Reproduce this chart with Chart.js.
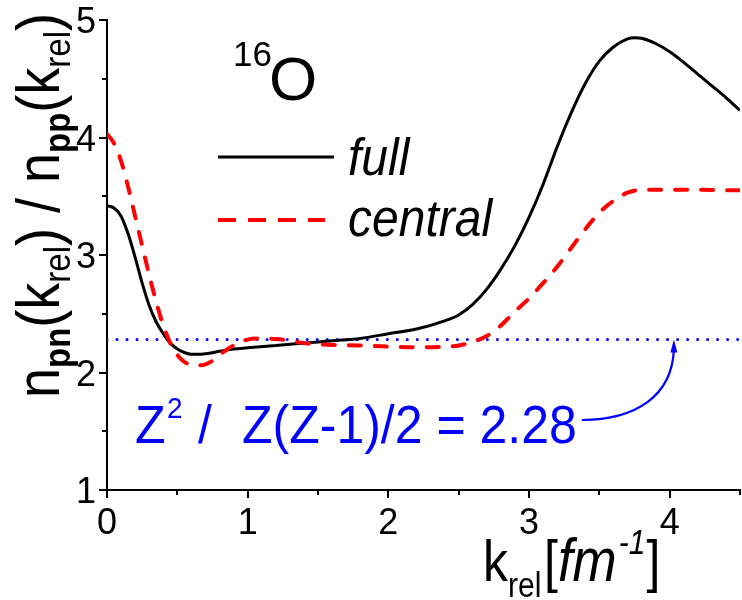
<!DOCTYPE html>
<html>
<head>
<meta charset="utf-8">
<script src="https://cdn.jsdelivr.net/npm/chart.js@4/dist/chart.umd.min.js"></script>
<style>
  html, body { margin: 0; padding: 0; background: #fff; }
  canvas { display: block; }
</style>
</head>
<body>
<canvas id="c" width="742" height="600"></canvas>
<script>
// ---- data ----
const kFull = [0.00,0.05,0.10,0.15,0.20,0.25,0.30,0.35,0.40,0.45,0.50,0.55,0.60,0.65,0.70,0.80,0.90,1.00,1.20,1.40,1.60,1.80,2.00,2.20,2.40,2.50,2.60,2.70,2.80,2.90,3.00,3.10,3.20,3.30,3.40,3.50,3.60,3.70,3.75,3.80,3.90,4.00,4.10,4.20,4.30,4.40,4.50];
const ratioFull = [3.42,3.40,3.33,3.18,2.98,2.76,2.57,2.43,2.33,2.25,2.20,2.17,2.155,2.155,2.16,2.18,2.20,2.21,2.23,2.25,2.27,2.29,2.33,2.37,2.44,2.49,2.58,2.71,2.88,3.08,3.32,3.60,3.92,4.21,4.46,4.65,4.77,4.84,4.85,4.845,4.80,4.73,4.64,4.54,4.44,4.34,4.23];

const kCentral = [0.00,0.05,0.10,0.15,0.20,0.25,0.30,0.35,0.40,0.45,0.50,0.55,0.60,0.65,0.70,0.75,0.80,0.90,1.00,1.10,1.20,1.30,1.40,1.50,1.60,1.80,2.00,2.20,2.40,2.50,2.60,2.70,2.80,2.90,3.00,3.10,3.20,3.30,3.40,3.50,3.60,3.70,3.80,4.00,4.20,4.50];
const ratioCentral = [4.03,3.95,3.80,3.58,3.33,3.08,2.83,2.60,2.40,2.25,2.15,2.09,2.065,2.06,2.07,2.10,2.15,2.23,2.28,2.29,2.285,2.27,2.25,2.24,2.235,2.23,2.22,2.215,2.22,2.23,2.26,2.31,2.40,2.52,2.63,2.76,2.90,3.06,3.22,3.36,3.46,3.53,3.555,3.555,3.555,3.55];

const zRatio = 2.28;            // Z^2 / Z(Z-1)/2
const kRange = [0, 4.5];
const yRange = [1, 5];
const xTickLabels = ['0','1','2','3','4'];
const yTickLabels = ['1','2','3','4','5'];
const seriesNames = ['full', 'central'];

const FONT = '"Liberation Sans", Arial, sans-serif';

const toXY = (xs, ys) => xs.map((x, i) => ({x, y: ys[i]}));

// draw a run of text pieces along a baseline, advancing x
function runs(ctx, x, y, parts) {
  let cx = x;
  for (const p of parts) {
    ctx.font = p.font;
    ctx.fillText(p.t, cx, y + (p.dy || 0));
    cx += ctx.measureText(p.t).width + (p.gap || 0);
  }
  return cx;
}
// same, with glyphs stretched in height by sy (origin at baseline start)
function tallRuns(ctx, x, y, sy, parts) {
  ctx.save();
  ctx.translate(x, y);
  ctx.scale(1, sy);
  const end = runs(ctx, 0, 0, parts);
  ctx.restore();
  return x + end;
}

const decor = {
  id: 'decor',
  afterDraw(chart) {
    const ctx = chart.ctx;
    const xs = chart.scales.x, ys = chart.scales.y;
    const a = chart.chartArea;
    ctx.save();
    // tick marks (major + minor), outward
    ctx.strokeStyle = '#000';
    ctx.lineWidth = 2;
    ctx.beginPath();
    for (let v = kRange[0]; v <= kRange[1] + 1e-9; v += 0.5) {
      const px = Math.round(xs.getPixelForValue(v));
      const len = Math.abs(v - Math.round(v)) < 1e-9 ? 8 : 5;
      ctx.moveTo(px, a.bottom); ctx.lineTo(px, a.bottom + len);
    }
    for (let v = yRange[0]; v <= yRange[1] + 1e-9; v += 0.5) {
      const py = Math.round(ys.getPixelForValue(v));
      const len = Math.abs(v - Math.round(v)) < 1e-9 ? 8 : 5;
      ctx.moveTo(a.left, py); ctx.lineTo(a.left - len, py);
    }
    ctx.stroke();

    ctx.fillStyle = '#000';
    ctx.textBaseline = 'alphabetic';

    // tick labels, positioned through the scales
    const TF = '36px ' + FONT;
    ctx.font = TF;
    ctx.textAlign = 'center';
    xTickLabels.forEach(t => {
      ctx.fillText(t, xs.getPixelForValue(Number(t)), a.bottom + 44);
    });
    ctx.textAlign = 'right';
    yTickLabels.forEach(t => {
      ctx.fillText(t, a.left - 11, ys.getPixelForValue(Number(t)) + 13);
    });
    ctx.textAlign = 'left';

    // y-axis title (rotated, glyphs a bit taller)
    ctx.save();
    ctx.translate(59, 398);
    ctx.rotate(-Math.PI / 2);
    ctx.scale(1, 1.12);
    const M = '54px ' + FONT, SB = 'bold 33px ' + FONT, S = '33px ' + FONT;
    runs(ctx, 0, 0, [
      {t: 'n', font: M}, {t: 'pn', font: SB, dy: 10},
      {t: '(k', font: M}, {t: 'rel', font: S, dy: 10},
      {t: ') / n', font: M}, {t: 'pp', font: SB, dy: 10},
      {t: '(k', font: M}, {t: 'rel', font: S, dy: 10},
      {t: ')', font: M}
    ]);
    ctx.restore();

    // x-axis title
    const XM = '50px ' + FONT, XS = '30px ' + FONT;
    tallRuns(ctx, 483, 581, 1.14, [
      {t: 'k', font: XM}, {t: 'rel', font: XS, dy: 14}
    ]);
    tallRuns(ctx, 544, 581, 1.14, [
      {t: '[', font: XM}, {t: 'fm', font: 'italic 53px ' + FONT, gap: 2},
      {t: '-1', font: 'italic 30px ' + FONT, dy: -24, gap: 1}, {t: ']', font: XM}
    ]);

    // 16O label
    ctx.font = '35px ' + FONT;
    ctx.fillText('16', 233, 66);
    ctx.font = '62px ' + FONT;
    ctx.fillText('O', 269, 100);

    // legend
    ctx.lineCap = 'butt';
    ctx.strokeStyle = '#000';
    ctx.lineWidth = 3;
    ctx.beginPath(); ctx.moveTo(218, 157); ctx.lineTo(334, 157); ctx.stroke();
    ctx.strokeStyle = '#ff0000';
    ctx.lineWidth = 4;
    ctx.setLineDash([18, 12]);
    ctx.beginPath(); ctx.moveTo(218, 220); ctx.lineTo(325, 220); ctx.stroke();
    ctx.setLineDash([]);
    ctx.fillStyle = '#000';
    tallRuns(ctx, 348, 175, 1.07, [{t: seriesNames[0], font: 'italic 48px ' + FONT}]);
    tallRuns(ctx, 348, 236, 1.07, [{t: seriesNames[1], font: 'italic 48px ' + FONT}]);

    // blue annotation
    ctx.fillStyle = '#0000ff';
    ctx.strokeStyle = '#0000ff';
    const ty = 443;
    tallRuns(ctx, 135, ty, 1.08, [{t: 'Z', font: '50px ' + FONT}]);
    tallRuns(ctx, 167, ty - 25, 1.08, [{t: '2', font: '28px ' + FONT}]);
    tallRuns(ctx, 198, ty, 1.08, [{t: '/', font: '50px ' + FONT}]);
    const endX = tallRuns(ctx, 242, ty, 1.08, [{t: 'Z(Z-1)/2 = ' + zRatio.toFixed(2), font: '50px ' + FONT}]);

    // curved arrow to the dotted line
    const tipX = xs.getPixelForValue(4.03), tipY = ys.getPixelForValue(zRatio);
    ctx.lineWidth = 2.2;
    ctx.beginPath();
    ctx.moveTo(endX + 5, 420);
    ctx.bezierCurveTo(tipX - 38, 420, tipX - 2, 396, tipX, tipY + 10);
    ctx.stroke();
    ctx.beginPath();
    ctx.moveTo(tipX, tipY);
    ctx.lineTo(tipX - 3.5, tipY + 13);
    ctx.lineTo(tipX + 3.5, tipY + 13);
    ctx.closePath();
    ctx.fill();
    ctx.restore();
  }
};

new Chart(document.getElementById('c'), {
  type: 'scatter',
  data: {
    datasets: [
      {
        label: seriesNames[0],
        data: toXY(kFull, ratioFull),
        showLine: true, borderColor: '#000', borderWidth: 3,
        pointRadius: 0, cubicInterpolationMode: 'monotone', order: 2
      },
      {
        label: seriesNames[1],
        data: toXY(kCentral, ratioCentral),
        showLine: true, borderColor: '#ff0000', borderWidth: 4,
        borderDash: [12, 14], borderCapStyle: 'round',
        pointRadius: 0, cubicInterpolationMode: 'monotone', order: 1
      },
      {
        label: 'Z^2 / Z(Z-1)/2',
        data: toXY(kRange, [zRatio, zRatio]),
        showLine: true, borderColor: '#0000ff', borderWidth: 3,
        borderDash: [0.01, 10], borderCapStyle: 'round',
        pointRadius: 0, order: 3
      }
    ]
  },
  options: {
    responsive: false,
    devicePixelRatio: 1,
    animation: false,
    layout: { padding: { top: 20, right: 2, left: 0, bottom: 0 } },
    plugins: { legend: { display: false }, tooltip: { enabled: false } },
    scales: {
      x: {
        type: 'linear', min: kRange[0], max: kRange[1],
        afterFit: s => { s.height = 110; },
        border: { display: true, color: '#000', width: 2 },
        grid: { display: true, drawOnChartArea: false, drawTicks: false, color: 'rgba(0,0,0,0)' },
        ticks: { display: false, stepSize: 0.5 }
      },
      y: {
        type: 'linear', min: yRange[0], max: yRange[1],
        afterFit: s => { s.width = 107; },
        border: { display: true, color: '#000', width: 2 },
        grid: { display: true, drawOnChartArea: false, drawTicks: false, color: 'rgba(0,0,0,0)' },
        ticks: { display: false, stepSize: 0.5 }
      }
    }
  },
  plugins: [decor]
});
</script>
</body>
</html>
